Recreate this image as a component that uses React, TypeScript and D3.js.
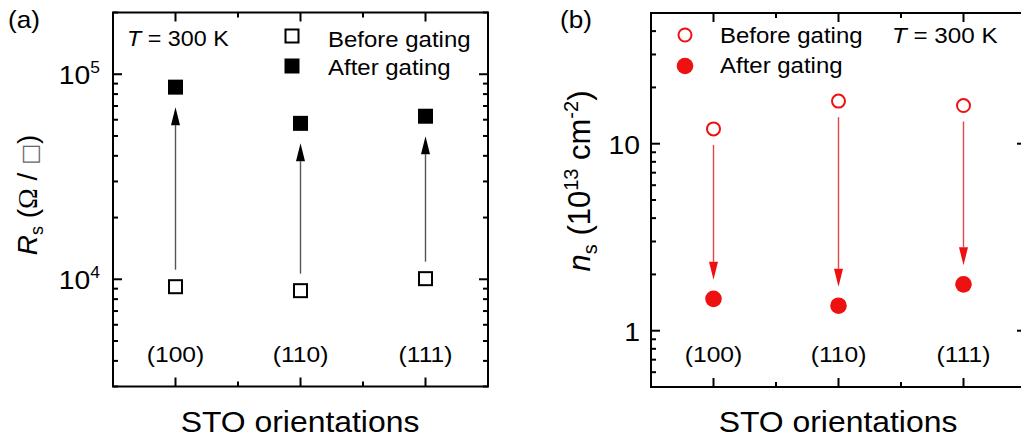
import * as d3 from "d3";

const categories = ["(100)", "(110)", "(111)"];
const rsBefore = [9200, 8800, 10070];
const rsAfter = [86500, 57600, 62400];
const nsBefore = [12.0, 16.9, 16.0];
const nsAfter = [1.48, 1.36, 1.77];

const FONT = "'Liberation Sans', Arial, sans-serif";
const RED = "#ee1111";
const SX = 1.09; // the original figure is a bit stretched sideways

// text with the slight horizontal stretch of the original
function ST({ x, y, size, anchor = "start", sx = SX, children }: any) {
  return (
    <text transform={`translate(${x},${y}) scale(${sx},1)`} fontSize={size} textAnchor={anchor}>
      {children}
    </text>
  );
}

// inward tick marks on all four sides of a framed log panel
function Frame({ x, y }: { x: any; y: any }) {
  const [x0, x1] = x.range();
  const [y0, y1] = y.range();
  const [lo, hi] = y.domain();
  const majors: number[] = [];
  const minors: number[] = [];
  for (let e = Math.floor(Math.log10(lo)); e <= Math.ceil(Math.log10(hi)); e++) {
    for (let m = 1; m < 10; m++) {
      const v = m * Math.pow(10, e);
      if (v < lo * 0.999 || v > hi * 1.001) continue;
      (m === 1 ? majors : minors).push(v);
    }
  }
  const xMajor = [1, 2, 3];
  const xMinor = [1.5, 2.5];
  const ticks: JSX.Element[] = [];
  majors.forEach((v, i) => {
    ticks.push(<line key={"ml" + i} x1={x0} x2={x0 + 9} y1={y(v)} y2={y(v)} />);
    ticks.push(<line key={"mr" + i} x1={x1} x2={x1 - 9} y1={y(v)} y2={y(v)} />);
  });
  minors.forEach((v, i) => {
    ticks.push(<line key={"nl" + i} x1={x0} x2={x0 + 5} y1={y(v)} y2={y(v)} />);
    ticks.push(<line key={"nr" + i} x1={x1} x2={x1 - 5} y1={y(v)} y2={y(v)} />);
  });
  xMajor.forEach((v, i) => {
    ticks.push(<line key={"xb" + i} x1={x(v)} x2={x(v)} y1={y0} y2={y0 - 9} />);
    ticks.push(<line key={"xt" + i} x1={x(v)} x2={x(v)} y1={y1} y2={y1 + 9} />);
  });
  xMinor.forEach((v, i) => {
    ticks.push(<line key={"nb" + i} x1={x(v)} x2={x(v)} y1={y0} y2={y0 - 5} />);
    ticks.push(<line key={"nt" + i} x1={x(v)} x2={x(v)} y1={y1} y2={y1 + 5} />);
  });
  return (
    <g stroke="#000" strokeWidth={2}>
      {ticks}
      <rect x={x0} y={y1} width={x1 - x0} height={y0 - y1} fill="none" />
    </g>
  );
}

function Arrow({ x, yFrom, yTo, color, lineColor }: any) {
  const dir = yTo < yFrom ? 1 : -1; // 1 = points up
  const head = 18;
  const half = 4.5;
  const base = yTo + dir * head;
  return (
    <g>
      <line x1={x} x2={x} y1={yFrom} y2={base} stroke={lineColor} strokeWidth={1.4} />
      <path d={`M${x},${yTo} L${x - half},${base} L${x + half},${base} Z`} fill={color} />
    </g>
  );
}

function PanelA() {
  const x = d3.scaleLinear().domain([0.5, 3.5]).range([113, 488]);
  const y = d3.scaleLog().domain([3000, 2e5]).range([386.5, 12.5]);
  return (
    <g fontFamily={FONT}>
      <ST x={8} y={28} size={24}>(a)</ST>
      <Frame x={x} y={y} />
      {[1e4, 1e5].map((v) => (
        <ST key={v} x={100} y={y(v) + 10} size={26} anchor="end">
          10<tspan fontSize={16} dy={-11}>{Math.log10(v)}</tspan>
        </ST>
      ))}
      <text transform="translate(37,195) rotate(-90)" textAnchor="middle" fontSize={28}>
        <tspan fontStyle="italic">R</tspan>
        <tspan fontSize={18} dy={6}>s</tspan>
        <tspan dy={-6}> (</tspan>
        <tspan fontFamily="'Liberation Serif', serif">Ω</tspan>
        <tspan> / </tspan>
        <tspan fontFamily="'DejaVu Sans', sans-serif" fontSize={22} fill="#666">□</tspan>
        <tspan>)</tspan>
      </text>
      {categories.map((c, i) => (
        <ST key={c} x={x(i + 1)} y={362} size={22} anchor="middle" sx={1.12}>{c}</ST>
      ))}
      <ST x={300} y={432} size={29} anchor="middle" sx={1.1}>STO orientations</ST>
      {categories.map((c, i) => (
        <Arrow key={"ar" + c} x={x(i + 1)} yFrom={y(rsBefore[i]) - 17} yTo={y(rsAfter[i]) + 20} color="#000" lineColor="#555" />
      ))}
      {rsBefore.map((v, i) => (
        <rect key={"b" + i} x={x(i + 1) - 6.5} y={y(v) - 6.5} width={13} height={13} fill="#fff" stroke="#000" strokeWidth={2} />
      ))}
      {rsAfter.map((v, i) => (
        <rect key={"a" + i} x={x(i + 1) - 7.5} y={y(v) - 7.5} width={15} height={15} fill="#000" />
      ))}
      <ST x={127} y={46} size={22} sx={1.06}>
        <tspan fontStyle="italic">T</tspan> = 300 K
      </ST>
      <rect x={285.5} y={29.5} width={13} height={13} fill="#fff" stroke="#000" strokeWidth={2} />
      <rect x={284.5} y={58.5} width={15} height={15} fill="#000" />
      <ST x={328} y={47} size={22}>Before gating</ST>
      <ST x={328} y={75} size={22}>After gating</ST>
    </g>
  );
}

function PanelB() {
  const x = d3.scaleLinear().domain([0.5, 3.5]).range([651, 1026]);
  const y = d3.scaleLog().domain([0.5, 50]).range([387, 13]);
  return (
    <g fontFamily={FONT}>
      <ST x={560} y={28} size={24}>(b)</ST>
      <Frame x={x} y={y} />
      {[1, 10].map((v) => (
        <ST key={v} x={640} y={y(v) + 10} size={26} anchor="end">{v}</ST>
      ))}
      <text transform="translate(590,181) rotate(-90)" textAnchor="middle" fontSize={31}>
        <tspan fontStyle="italic">n</tspan>
        <tspan fontSize={20} dy={7}>s</tspan>
        <tspan dy={-7}> (10</tspan>
        <tspan fontSize={20} dy={-12}>13</tspan>
        <tspan dy={12}> cm</tspan>
        <tspan fontSize={20} dy={-12}>-2</tspan>
        <tspan dy={12}>)</tspan>
      </text>
      {categories.map((c, i) => (
        <ST key={c} x={x(i + 1)} y={362} size={22} anchor="middle" sx={1.12}>{c}</ST>
      ))}
      <ST x={838} y={432} size={29} anchor="middle" sx={1.1}>STO orientations</ST>
      {categories.map((c, i) => (
        <Arrow key={"ar" + c} x={x(i + 1)} yFrom={y(nsBefore[i]) + 16} yTo={y(nsAfter[i]) - 19} color={RED} lineColor="#e04848" />
      ))}
      {nsBefore.map((v, i) => (
        <circle key={"b" + i} cx={x(i + 1)} cy={y(v)} r={6.5} fill="#fff" stroke={RED} strokeWidth={2} />
      ))}
      {nsAfter.map((v, i) => (
        <circle key={"a" + i} cx={x(i + 1)} cy={y(v)} r={8.3} fill={RED} />
      ))}
      <circle cx={685} cy={35} r={6.5} fill="#fff" stroke={RED} strokeWidth={2} />
      <circle cx={685} cy={66} r={8.3} fill={RED} />
      <ST x={720} y={43} size={22}>Before gating</ST>
      <ST x={720} y={73} size={22}>After gating</ST>
      <ST x={892} y={43} size={22} sx={1.1}>
        <tspan fontStyle="italic">T</tspan> = 300 K
      </ST>
    </g>
  );
}

export default function App() {
  return (
    <div style={{ position: "absolute", left: 0, top: 0 }}>
      <svg width={1021} height={441} style={{ display: "block", background: "#fff" }}>
        <PanelA />
        <PanelB />
      </svg>
    </div>
  );
}
